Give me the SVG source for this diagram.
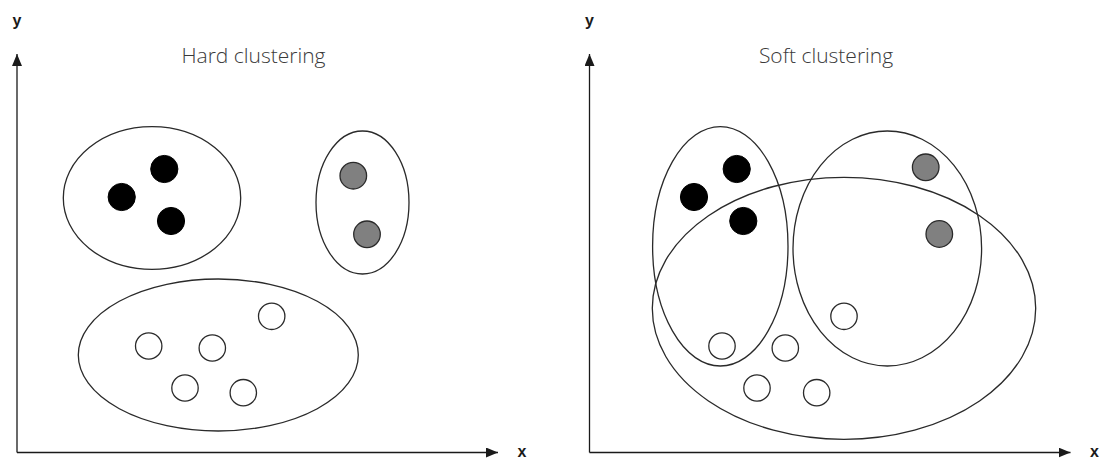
<svg xmlns="http://www.w3.org/2000/svg" width="1100" height="458" viewBox="0 0 1100 458">
<style>
.bg{fill:#ffffff}
.axis{stroke:#1a1a1a;stroke-width:1.3;fill:none}
.cl{fill:none;stroke:#2a2a2a;stroke-width:1.3}
.blk{fill:#000000;stroke:#000000;stroke-width:1}
.gry{fill:#808080;stroke:#2a2a2a;stroke-width:1.3}
.wht{fill:#ffffff;stroke:#2a2a2a;stroke-width:1.3}
.title{font-family:"Open Sans","Liberation Sans",sans-serif;font-weight:300;font-size:21px;fill:#3a3a3a;text-anchor:middle}
.lbl{font-family:"Liberation Sans",Arial,sans-serif;font-weight:bold;font-size:16px;fill:#1a1a1a;text-anchor:middle}
</style>
<defs>
<marker id="arr" viewBox="0 0 12 10" refX="12" refY="5" markerWidth="12" markerHeight="10" markerUnits="userSpaceOnUse" orient="auto">
<path d="M0,0 L12,5 L0,10 Z" fill="#1a1a1a"/>
</marker>
</defs>
<rect class="bg" x="0" y="0" width="1100" height="458"/>

<g id="connectors">
<path class="axis" d="M17,452.5 L17,54" marker-end="url(#arr)"/>
<path class="axis" d="M17,452.5 L498,452.5" marker-end="url(#arr)"/>
<path class="axis" d="M589.5,452.5 L589.5,54" marker-end="url(#arr)"/>
<path class="axis" d="M589.5,452.5 L1070.5,452.5" marker-end="url(#arr)"/>
</g>

<g id="labels">
<text class="lbl" x="17" y="26">y</text>
<text class="lbl" x="522" y="457">x</text>
<text class="lbl" x="589.5" y="26">y</text>
<text class="lbl" x="1094.5" y="457">x</text>
<text class="title" x="253.5" y="63">Hard clustering</text>
<text class="title" x="826" y="63">Soft clustering</text>
</g>

<g id="hard-cluster-black"><ellipse class="cl" cx="152" cy="198" rx="88.7" ry="71.3"/></g>
<g id="hard-cluster-gray"><ellipse class="cl" cx="362.5" cy="202.5" rx="46.5" ry="71.5"/></g>
<g id="hard-cluster-white"><ellipse class="cl" cx="218.3" cy="355" rx="140" ry="76"/></g>

<g id="hard-black-1"><circle class="blk" cx="164.3" cy="169" r="13.6"/></g>
<g id="hard-black-2"><circle class="blk" cx="121.7" cy="197" r="13.6"/></g>
<g id="hard-black-3"><circle class="blk" cx="171" cy="221" r="13.6"/></g>
<g id="hard-gray-1"><circle class="gry" cx="353.3" cy="175.7" r="13.3"/></g>
<g id="hard-gray-2"><circle class="gry" cx="367" cy="234.3" r="13.3"/></g>
<g id="hard-white-1"><circle class="wht" cx="148.7" cy="346" r="13.2"/></g>
<g id="hard-white-2"><circle class="wht" cx="212.3" cy="348" r="13.2"/></g>
<g id="hard-white-3"><circle class="wht" cx="271.7" cy="316.3" r="13.2"/></g>
<g id="hard-white-4"><circle class="wht" cx="185" cy="388" r="13.2"/></g>
<g id="hard-white-5"><circle class="wht" cx="243.3" cy="392.7" r="13.2"/></g>

<g id="soft-cluster-black"><ellipse class="cl" cx="720.3" cy="246.3" rx="67.7" ry="119.7"/></g>
<g id="soft-cluster-gray"><ellipse class="cl" cx="887.3" cy="248.5" rx="94.3" ry="117.5"/></g>
<g id="soft-cluster-white"><ellipse class="cl" cx="844" cy="308.3" rx="191.7" ry="131"/></g>

<g id="soft-black-1"><circle class="blk" cx="736.7" cy="169" r="13.6"/></g>
<g id="soft-black-2"><circle class="blk" cx="694" cy="197" r="13.6"/></g>
<g id="soft-black-3"><circle class="blk" cx="743.3" cy="221" r="13.6"/></g>
<g id="soft-gray-1"><circle class="gry" cx="925.7" cy="167.3" r="13.3"/></g>
<g id="soft-gray-2"><circle class="gry" cx="939.3" cy="234" r="13.3"/></g>
<g id="soft-white-1"><circle class="wht" cx="722" cy="346" r="13.2"/></g>
<g id="soft-white-2"><circle class="wht" cx="785.3" cy="348" r="13.2"/></g>
<g id="soft-white-3"><circle class="wht" cx="844" cy="316.3" r="13.2"/></g>
<g id="soft-white-4"><circle class="wht" cx="757" cy="388" r="13.2"/></g>
<g id="soft-white-5"><circle class="wht" cx="816.7" cy="392.7" r="13.2"/></g>
</svg>
